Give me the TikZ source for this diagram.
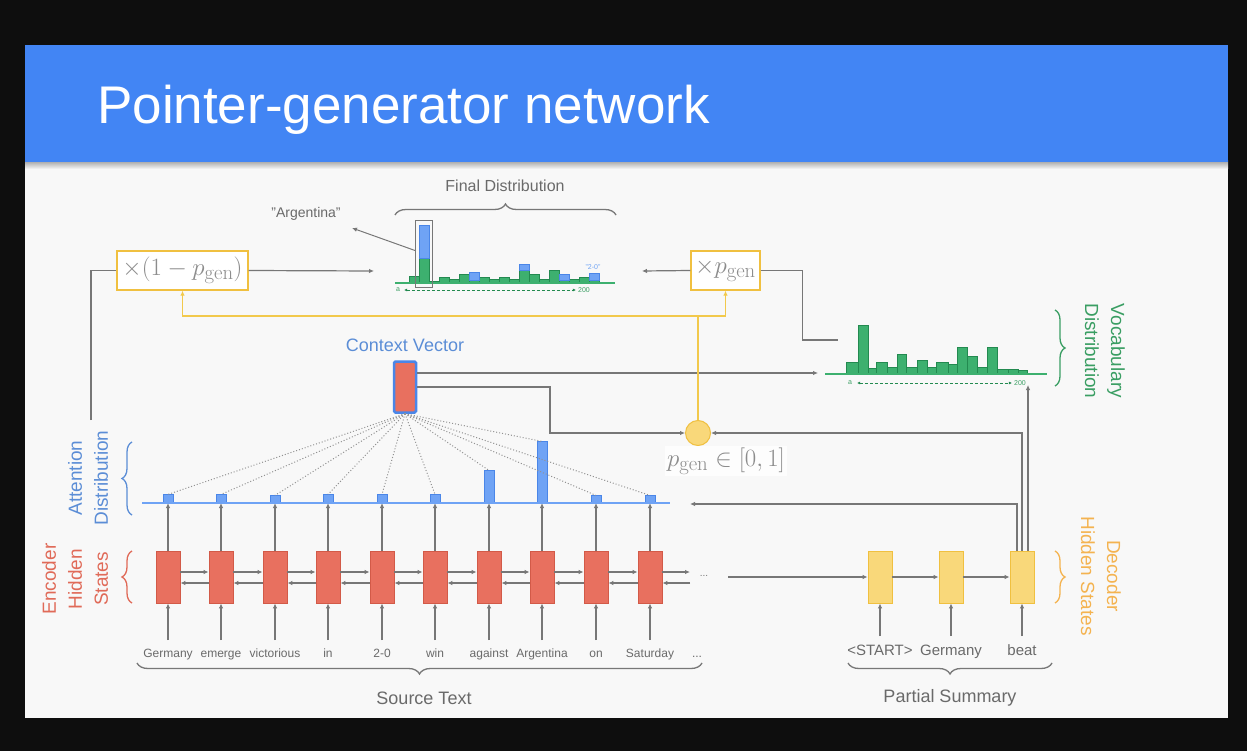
\documentclass[tikz,border=0pt]{standalone}
\usepackage{amsmath}
\usepackage[no-math]{fontspec}
\setmainfont{Liberation Sans}
\usetikzlibrary{arrows.meta,decorations.pathreplacing,calc}
\definecolor{frame}{HTML}{0E0E0E}
\definecolor{slidebg}{HTML}{F8F8F8}
\definecolor{headblue}{HTML}{4285F4}
\definecolor{lgray}{HTML}{777777}
\definecolor{tgray}{HTML}{6A6A6A}
\definecolor{mgray}{HTML}{8C8C8C}
\definecolor{encfill}{HTML}{E8705F}
\definecolor{encdraw}{HTML}{D25A48}
\definecolor{encfont}{HTML}{E06A58}
\definecolor{attfill}{HTML}{6FA3F5}
\definecolor{attdraw}{HTML}{4A86E8}
\definecolor{attfont}{HTML}{5B8DD6}
\definecolor{vfill}{HTML}{3DB06F}
\definecolor{vdraw}{HTML}{238A50}
\definecolor{vfont}{HTML}{3A9E63}
\definecolor{dfill}{HTML}{F9D87A}
\definecolor{ddraw}{HTML}{F0C040}
\definecolor{dfont}{HTML}{F4B350}
\definecolor{yline}{HTML}{F2C94C}
\begin{document}
\begin{tikzpicture}[x=1pt,y=-1pt,
  garrow/.style={draw=lgray,line width=1.2pt,-{Latex[length=5pt,width=4.5pt]}},
  gline/.style={draw=lgray,line width=1.2pt},
  yl/.style={draw=yline,line width=1.5pt},
  yarrow/.style={draw=yline,line width=1.5pt,-{Latex[length=5pt,width=4.5pt]}},
  encbox/.style={draw=encdraw,fill=encfill,line width=0.8pt,minimum width=24pt,minimum height=52pt,inner sep=0pt},
  decbox/.style={draw=ddraw,fill=dfill,line width=0.8pt,minimum width=24pt,minimum height=52pt,inner sep=0pt},
  attbar/.style={draw=attdraw,fill=attfill,line width=0.6pt,minimum width=10pt,inner sep=0pt,anchor=south},
  vbar/.style={draw=vdraw,fill=vfill,line width=0.6pt},
  bbar/.style={draw=attdraw,fill=attfill,line width=0.6pt},
  word/.style={text=tgray,font=\fontsize{12}{14}\selectfont,inner sep=1pt,anchor=base},
  dword/.style={text=tgray,font=\fontsize{15}{17}\selectfont,inner sep=1pt,anchor=base},
  mbox/.style={draw=ddraw,fill=white,line width=1.3pt,minimum height=39pt,inner sep=0pt,text=mgray,font=\fontsize{24.88}{28}\selectfont},
  gbrace/.style={decorate,decoration={brace,amplitude=11pt},line width=1.3pt,draw=lgray},
  cbrace/.style={decorate,decoration={brace,amplitude=10pt},line width=1.3pt},
  lab/.style={text=tgray,font=\fontsize{18}{22}\selectfont,inner sep=1pt},
  sidelab/.style={align=center,font=\fontsize{19}{26}\selectfont,inner sep=0pt},
  tiny/.style={font=\fontsize{7}{8}\selectfont,inner sep=0pt},
  tinyarrow/.style={draw=vdraw,line width=0.8pt,dash pattern=on 3pt off 2pt,{Latex[length=3pt,width=3pt]}-{Latex[length=3pt,width=3pt]}},
  dotl/.style={draw=lgray!80,line width=1pt,dotted}
]
% frame, slide, header
\fill[frame] (0,0) rectangle (1247,751);
\useasboundingbox (0,0) rectangle (1247,751);
\fill[slidebg] (25,45) rectangle (1228,718);
\shade[top color=black!35,bottom color=slidebg] (25,161) rectangle (1228,169);
\fill[headblue] (25,45) rectangle (1228,162);
\node[anchor=base west,text=white,font=\fontsize{53}{60}\selectfont,inner sep=0pt] (title) at (97,124) {Pointer-generator network};

% encoder
\foreach \i/\x/\h/\w in {1/168/8/Germany,2/221/8/emerge,3/275/7/victorious,4/328/8/in,5/382/8/2-0,6/435/8/win,7/489/32/against,8/542/61/Argentina,9/596/7/on,10/650/7/Saturday}{
  \node[encbox] (e\i) at (\x,577) {};
  \node[attbar,minimum height=\h pt] (a\i) at (\x,503) {};
  \node[word] (w\i) at (\x,657) {\w};
  \draw[garrow] ($(w\i.base)+(0,-17)$) -- (e\i.south);
  \draw[garrow] (e\i.north) -- (a\i.south);
}
\node[word] (wdots) at (697,657) {...};
\draw[draw=attfill,line width=1.6pt] (142,503) -- (670,503);
\foreach \i/\j in {1/2,2/3,3/4,4/5,5/6,6/7,7/8,8/9,9/10}{
  \draw[garrow] ($(e\i.east)+(0,-5)$) -- ($(e\j.west)+(0,-5)$);
  \draw[garrow] ($(e\j.west)+(0,6)$) -- ($(e\i.east)+(0,6)$);
}
\coordinate (et1) at (690,572);
\coordinate (et2) at (690,583);
\draw[garrow] ($(e10.east)+(0,-5)$) -- (et1);
\draw[garrow] (et2) -- ($(e10.east)+(0,6)$);
\node[text=lgray,font=\fontsize{10}{10}\selectfont] (edots) at (704,576) {...};

% decoder
\foreach \i/\x/\w in {1/880/\textless START\textgreater,2/951/Germany,3/1022/beat}{
  \node[decbox] (d\i) at (\x,577) {};
  \node[dword] (dw\i) at (\x,655) {\w};
  \draw[garrow] ($(dw\i.base)+(0,-19)$) -- (d\i.south);
}
\coordinate (ds) at (728,577);
\draw[garrow] (ds) -- (d1.west);
\draw[garrow] (d1.east) -- (d2.west);
\draw[garrow] (d2.east) -- (d3.west);

% context vector
\node[draw=attdraw,fill=encfill,line width=2.5pt,rounded corners=1.5pt,minimum width=22pt,minimum height=51pt,inner sep=0pt] (cv) at (405,387) {};
\node[text=attfont,font=\fontsize{18}{20}\selectfont] (cvl) at (405,345) {Context Vector};
\foreach \i in {1,...,10}{ \draw[dotl] (cv.south) -- (a\i.north); }

% p_gen
\node[circle,fill=dfill,draw=ddraw,line width=1pt,minimum size=25pt,inner sep=0pt] (pg) at (698,433) {};
\node[fill=white!70!slidebg,text=mgray,font=\fontsize{24.88}{26}\selectfont,inner sep=2pt] (pgl) at (726,461) {$p_{\mathrm{gen}}\in[0,1]$};
\coordinate (vl) at (818,373);
\draw[garrow] ($(cv.east)+(0,-14)$) -- (vl);
\coordinate (cvb) at (550,387);
\draw[garrow] (cv.east) -- (cvb) |- (pg.west);
\coordinate (attin) at (690,504);
\draw[garrow] ($(d3.north)+(-5,0)$) |- (attin);
\draw[garrow] (d3.north) |- (pg.east);
\coordinate (vin) at (1028,385);
\draw[garrow] ($(d3.north)+(6,0)$) -- (vin);

% multiplier boxes
\node[mbox,minimum width=131pt] (m1) at (182.5,270.5) {$\times(1-p_{\mathrm{gen}})$};
\node[mbox,minimum width=69pt] (m2) at (725.5,270.5) {$\times p_{\mathrm{gen}}$};
\coordinate (yj) at (698,316);
\draw[yl] (pg.north) -- (yj);
\draw[yarrow] (yj) -| (m1.south);
\draw[yarrow] (yj) -| (m2.south);
\coordinate (att2) at (91,420);
\draw[gline] (att2) |- (m1.west);
\coordinate (fdl) at (374,271);
\draw[garrow] (m1.east) -- (fdl);
\coordinate (fdr) at (642,271);
\draw[garrow] (m2.west) -- (fdr);
\coordinate (vtop) at (838,340);
\draw[gline] (m2.east) -- ++(42,0) |- (vtop);

% final distribution
\foreach \x/\t in {409/276,419/258,429/281,439/277,449/279,459/274,469/280,479/277,489/279,499/277,509/279,519/270,529/274,539/279,549/270,559/280,569/279,579/277,589/280}{
  \draw[vbar] (\x,283) rectangle ++(10,\t-283);
}
\foreach \x/\t/\b in {419/225/258,469/272/280,519/264/270,559/274/280,589/273/280}{
  \draw[bbar] (\x,\b) rectangle (\x+10,\t);
}
\draw[draw=vfill,line width=1.6pt] (395,283) -- (615,283);
\node[draw=lgray,line width=1pt,minimum width=17pt,minimum height=67pt,inner sep=0pt] (argbox) at (424,254.5) {};
\node[text=tgray,font=\fontsize{14}{16}\selectfont,inner sep=1pt] (argl) at (306,214) {"Argentina"};
\coordinate (argtip) at (352,228);
\draw[garrow,line width=1pt] ($(argbox.west)+(0,-4)$) -- (argtip);
\node[tiny,text=attfill] (twozero) at (593,267) {"2-0"};
\node[tiny,text=vfont] (fa) at (398,290) {a};
\node[tiny,text=vfont] (f200) at (584,290) {200};
\draw[tinyarrow] ($(fa.east)+(4,0)$) -- ($(f200.west)+(-2,0)$);
\draw[gbrace] (395,215) -- (616,215);
\node[text=tgray,font=\fontsize{16}{18}\selectfont] (fdlab) at (505,186) {Final Distribution};

% vocabulary distribution
\foreach \a/\b/\t in {846/858/362,858/868/325,868/876/368,876/887/362,887/897/367,897/906/354,906/917/367,917/927/360,927/936/367,936/948/362,948/957/364,957/967/347,967/977/356,977/987/367,987/997/347,997/1008/369,1008/1018/369,1018/1027/370}{
  \draw[vbar] (\a,374) rectangle (\b,\t);
}
\draw[draw=vfill,line width=1.6pt] (825,374) -- (1047,374);
\node[tiny,text=vfont] (va) at (850,383) {a};
\node[tiny,text=vfont] (v200) at (1020,383) {200};
\draw[tinyarrow] ($(va.east)+(5,0)$) -- ($(v200.west)+(-2,0)$);
\draw[cbrace,draw=vfont] (1055,310) -- (1055,386);
\node[sidelab,text=vfont,rotate=-90] (vlab) at (1105,351) {Vocabulary\\Distribution};

% braces and side labels
\draw[cbrace,draw=attfont] (132,515) -- (132,442);
\node[sidelab,text=attfont,rotate=90] (alab) at (88,478) {Attention\\Distribution};
\draw[cbrace,draw=encfont] (132,603) -- (132,551);
\node[sidelab,text=encfont,rotate=90] (elab) at (75,579) {Encoder\\Hidden\\States};
\draw[cbrace,draw=dfont] (1055,551) -- (1055,603);
\node[sidelab,text=dfont,rotate=-90] (dlab) at (1101,576) {Decoder\\Hidden States};
\draw[gbrace] (702,663) -- (137,663);
\node[lab] (src) at (424,698) {Source Text};
\draw[gbrace] (1052,663) -- (848,663);
\node[lab] (ps) at (950,698) {Partial Summary};
\end{tikzpicture}
\end{document}
